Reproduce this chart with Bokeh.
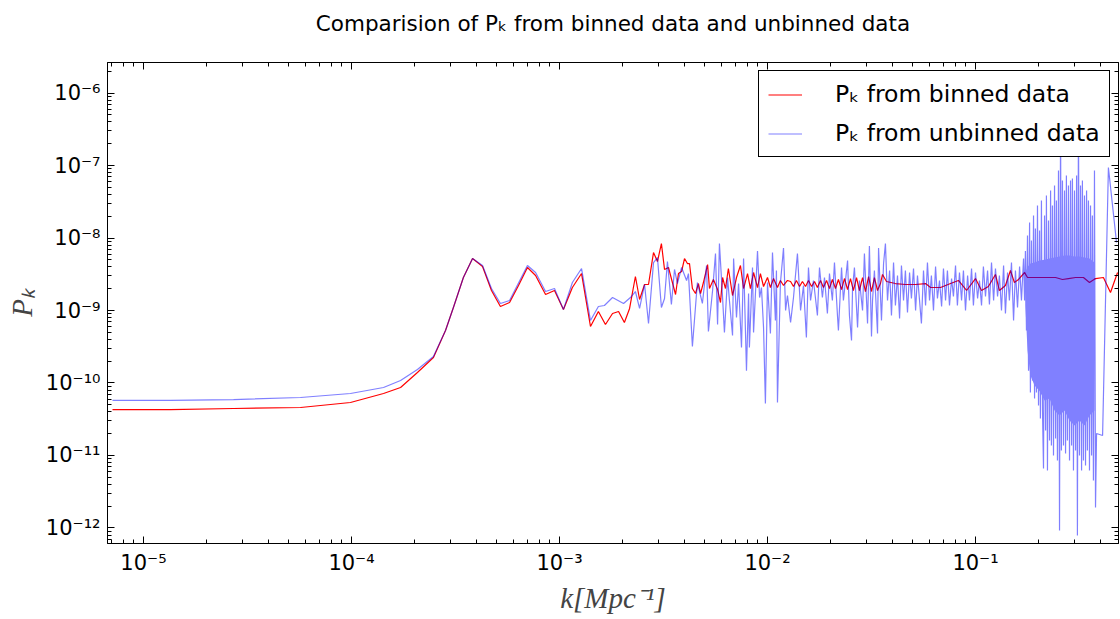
import numpy as np
from bokeh.plotting import figure
from bokeh.models import (Range1d, LogAxis, FixedTicker, CustomJSTickFormatter,
                          Legend, LegendItem)
from bokeh.embed import file_html
from bokeh.resources import INLINE

# ---------------- data: log10 values ----------------
# binned P_k (red)
red_low_log_k = [-5.149, -4.870, -4.567, -4.245, -4.005, -3.846, -3.764, -3.683, -3.606, -3.548,
                 -3.510, -3.462, -3.418, -3.370, -3.327, -3.284, -3.240, -3.197, -3.154, -3.115,
                 -3.067, -3.024, -2.981, -2.938, -2.894, -2.851, -2.813, -2.779, -2.745, -2.716,
                 -2.688, -2.663, -2.635, -2.615, -2.591, -2.572, -2.548, -2.529, -2.510, -2.495,
                 -2.476, -2.442, -2.428, -2.413, -2.399, -2.385, -2.375, -2.361, -2.346, -2.332,
                 -2.322, -2.308, -2.288, -2.279, -2.260, -2.240, -2.226]
red_low_log_p = [-10.366, -10.366, -10.352, -10.338, -10.269, -10.145, -10.062, -9.855, -9.648, -9.276,
                 -8.959, -8.545, -8.283, -8.393, -8.724, -8.945, -8.890, -8.655, -8.407, -8.517,
                 -8.779, -8.724, -8.986, -8.683, -8.490, -9.221, -9.014, -9.193, -9.041, -9.014,
                 -9.166, -8.972, -8.531, -8.848, -8.641, -8.641, -8.200, -8.324, -8.076, -8.434,
                 -8.407, -8.779, -8.490, -8.462, -8.283, -8.352, -8.352, -8.697, -8.766, -8.628,
                 -8.766, -8.614, -8.366, -8.697, -8.572, -8.710, -8.890]
red_mid_log_k = [-2.216, -2.202, -2.188, -2.168, -2.149, -2.130, -2.115, -2.096, -2.082, -2.067,
                 -2.048, -2.034, -2.019, -2.000, -1.986, -1.971, -1.952, -1.938, -1.923, -1.904,
                 -1.889, -1.875, -1.861, -1.846, -1.832, -1.817, -1.803, -1.788, -1.774, -1.760,
                 -1.745, -1.731, -1.716, -1.702, -1.688, -1.673, -1.659, -1.644, -1.630, -1.615,
                 -1.601, -1.587, -1.572, -1.558, -1.543, -1.529, -1.514, -1.500, -1.486, -1.471,
                 -1.457]
red_mid_log_p = [-8.545, -8.697, -8.421, -8.793, -8.545, -8.379, -8.697, -8.490, -8.697, -8.476,
                 -8.683, -8.490, -8.669, -8.545, -8.683, -8.559, -8.683, -8.586, -8.655, -8.586,
                 -8.600, -8.669, -8.586, -8.669, -8.600, -8.669, -8.586, -8.669, -8.600, -8.683,
                 -8.586, -8.683, -8.586, -8.697, -8.572, -8.697, -8.572, -8.710, -8.559, -8.710,
                 -8.559, -8.724, -8.545, -8.724, -8.545, -8.738, -8.531, -8.738, -8.545, -8.724,
                 -8.628]
red_high_log_k = [-1.447, -1.428, -1.385, -1.337, -1.288, -1.240, -1.216, -1.168, -1.120, -1.082,
                  -1.043, -1.000, -0.971, -0.938, -0.904, -0.885, -0.856, -0.832, -0.813, -0.793]
red_high_log_p = [-8.503, -8.600, -8.628, -8.641, -8.641, -8.628, -8.683, -8.683, -8.628, -8.586,
                  -8.724, -8.559, -8.724, -8.669, -8.503, -8.724, -8.655, -8.448, -8.614, -8.572]
red_band_log_k = [-0.764, -0.750, -0.712, -0.663, -0.615, -0.582, -0.553, -0.519, -0.481, -0.452,
                  -0.423]
red_band_log_p = [-8.476, -8.545, -8.545, -8.545, -8.545, -8.572, -8.559, -8.545, -8.545, -8.614,
                  -8.559]
red_tail_log_k = [-0.385, -0.351, -0.317]
red_tail_log_p = [-8.545, -8.752, -8.476]

# unbinned P_k (blue)
blue_low_log_k = [-5.149, -4.870, -4.567, -4.245, -4.005, -3.846, -3.764, -3.683, -3.606, -3.548,
                  -3.510, -3.462, -3.418, -3.370, -3.327, -3.284, -3.240, -3.154, -3.115, -3.067,
                  -3.024, -2.981, -2.938, -2.894, -2.851, -2.813, -2.784, -2.745, -2.692, -2.659,
                  -2.635, -2.615, -2.591, -2.572, -2.548, -2.529, -2.510, -2.495, -2.481, -2.462,
                  -2.447, -2.433, -2.413, -2.389, -2.380, -2.361, -2.337, -2.313, -2.293, -2.284,
                  -2.264, -2.250, -2.240, -2.231]
blue_low_log_p = [-10.241, -10.241, -10.228, -10.200, -10.145, -10.062, -9.966, -9.814, -9.634, -9.276,
                  -8.959, -8.545, -8.283, -8.379, -8.697, -8.903, -8.862, -8.379, -8.476, -8.738,
                  -8.697, -8.986, -8.614, -8.421, -9.138, -8.945, -8.931, -8.821, -8.903, -8.821,
                  -8.738, -8.972, -8.641, -9.179, -8.338, -8.269, -8.959, -8.834, -8.324, -8.917,
                  -8.434, -8.628, -8.407, -8.586, -8.490, -9.497, -8.614, -8.903, -8.379, -9.290,
                  -8.724, -8.214, -9.193, -8.076]
blue_mid_log_k = [-2.216, -2.207, -2.192, -2.183, -2.168, -2.163, -2.149, -2.139, -2.125, -2.115,
                  -2.101, -2.091, -2.087, -2.072, -2.067, -2.048, -2.038, -2.029, -2.019, -2.010,
                  -2.000, -1.986, -1.976, -1.962, -1.957, -1.952, -1.938, -1.923, -1.913, -1.904,
                  -1.889, -1.875, -1.856, -1.841, -1.827, -1.813, -1.803, -1.793, -1.779, -1.760,
                  -1.750, -1.736, -1.726, -1.712, -1.702, -1.688, -1.678, -1.663, -1.659, -1.644,
                  -1.635, -1.615, -1.606, -1.596, -1.591, -1.582, -1.567, -1.558, -1.543, -1.534,
                  -1.519, -1.510, -1.500, -1.495, -1.486, -1.471, -1.466, -1.452, -1.442, -1.433,
                  -1.423, -1.413]
blue_mid_log_p = [-8.821, -9.303, -8.545, -8.862, -9.345, -8.283, -9.097, -8.628, -9.510, -8.283,
                  -9.831, -8.766, -9.510, -8.407, -9.303, -8.179, -8.821, -8.683, -9.234, -10.283,
                  -8.614, -9.317, -8.200, -9.138, -8.448, -10.269, -8.628, -8.138, -9.000, -8.793,
                  -9.166, -8.821, -8.214, -9.000, -8.655, -9.372, -8.407, -8.862, -8.586, -9.069,
                  -8.407, -8.821, -8.545, -9.041, -8.490, -8.862, -8.338, -9.097, -9.276, -8.407,
                  -8.862, -8.310, -9.069, -9.414, -8.683, -8.407, -9.234, -8.586, -9.000, -8.214,
                  -9.179, -8.110, -9.359, -8.862, -8.448, -9.317, -8.138, -9.138, -8.352, -8.076,
                  -8.862, -8.448]
blue_noise_log_k = [-1.404, -1.394, -1.385, -1.375, -1.365, -1.356, -1.346, -1.337, -1.327, -1.317,
                    -1.308, -1.298, -1.288, -1.279, -1.269, -1.260, -1.250, -1.240, -1.231, -1.221,
                    -1.212, -1.202, -1.192, -1.183, -1.173, -1.163, -1.154, -1.144, -1.135, -1.125,
                    -1.115, -1.106, -1.096, -1.087, -1.077, -1.067, -1.058, -1.048, -1.038, -1.029,
                    -1.019, -1.010, -1.000, -0.990, -0.981, -0.971, -0.962, -0.952, -0.942, -0.933,
                    -0.923, -0.913, -0.904, -0.894, -0.885, -0.875, -0.865, -0.856, -0.846, -0.837,
                    -0.827, -0.817, -0.808, -0.798, -0.788, -0.779, -0.769]
blue_noise_log_p = [-9.069, -8.338, -8.931, -8.517, -9.110, -8.379, -8.862, -8.448, -9.028, -8.476,
                    -8.834, -8.421, -9.000, -8.517, -8.862, -9.179, -8.448, -8.931, -8.338, -8.862,
                    -8.517, -9.000, -8.393, -8.834, -8.586, -8.945, -8.421, -8.862, -8.448, -8.931,
                    -8.559, -8.807, -8.379, -8.931, -8.476, -8.862, -8.448, -9.000, -8.517, -8.862,
                    -8.421, -8.931, -8.476, -8.834, -8.586, -8.931, -8.393, -8.807, -8.448, -8.917,
                    -8.338, -8.862, -8.421, -8.807, -8.517, -9.000, -8.379, -9.041, -8.476, -8.862,
                    -8.338, -9.138, -8.448, -8.959, -8.393, -8.862, -8.283]
blue_band_log_k = [-0.764, -0.760, -0.755, -0.750, -0.745, -0.740, -0.736, -0.731, -0.726, -0.721,
                   -0.716, -0.712, -0.707, -0.702, -0.697, -0.692, -0.688, -0.683, -0.678, -0.673,
                   -0.668, -0.663, -0.659, -0.654, -0.649, -0.644, -0.639, -0.635, -0.630, -0.625,
                   -0.620, -0.615, -0.611, -0.606, -0.601, -0.596, -0.591, -0.587, -0.582, -0.577,
                   -0.572, -0.567, -0.563, -0.558, -0.553, -0.548, -0.543, -0.538, -0.534, -0.529,
                   -0.524, -0.519, -0.514, -0.510, -0.505, -0.500, -0.495, -0.490, -0.486, -0.481,
                   -0.476, -0.471, -0.466, -0.462, -0.457, -0.452, -0.447, -0.442, -0.438, -0.433,
                   -0.428, -0.423, -0.418, -0.389, -0.361, -0.322]
blue_band_log_p = [-8.862, -8.179, -9.276, -7.966, -9.831, -7.786, -10.131, -8.034, -9.966, -7.690,
                   -10.214, -7.869, -10.131, -7.552, -10.310, -7.897, -10.490, -7.483, -10.379, -11.179,
                   -7.690, -10.655, -7.414, -11.207, -7.759, -10.793, -7.345, -10.862, -7.552, -11.000,
                   -7.276, -10.766, -7.483, -11.069, -7.069, -12.034, -6.241, -10.931, -7.207, -10.862,
                   -7.345, -10.972, -7.138, -10.793, -7.276, -11.069, -7.207, -10.862, -7.179, -11.207,
                   -7.345, -10.931, -7.138, -12.103, -6.241, -11.000, -7.276, -11.207, -7.207, -11.069,
                   -7.414, -11.138, -7.345, -10.931, -7.483, -11.207, -7.552, -11.000, -7.690, -11.345,
                   -7.069, -11.717, -10.697, -10.724, -7.028, -8.062]
# solid core of the dense unbinned band (where the traces merge)
core_log_k = [-0.760, -0.750, -0.736, -0.716, -0.692, -0.668, -0.644, -0.620, -0.596, -0.572,
              -0.548, -0.524, -0.500, -0.476, -0.452, -0.428]
core_upper_log_p = [-8.476, -8.400, -8.352, -8.338, -8.310, -8.300, -8.283, -8.269, -8.255, -8.241,
                    -8.241, -8.255, -8.255, -8.269, -8.283, -8.338]
core_lower_log_p = [-8.931, -9.552, -9.897, -10.034, -10.110, -10.241, -10.214, -10.379, -10.448, -10.379,
                    -10.517, -10.586, -10.517, -10.586, -10.448, -10.379]

x_major_ticks = [1e-5, 1e-4, 1e-3, 1e-2, 1e-1]
y_major_ticks = [1e-12, 1e-11, 1e-10, 1e-9, 1e-8, 1e-7, 1e-6]

legend_labels = ["P\u2096 from binned data", "P\u2096 from unbinned data"]
title_text = "Comparision of P\u2096 from binned data and unbinned data"


def join(*parts):
    return [v for part in parts for v in part]


def pw(vals):
    return 10.0 ** np.array(vals)


red_k = pw(join(red_low_log_k, red_mid_log_k, red_high_log_k, red_band_log_k, red_tail_log_k))
red_p = pw(join(red_low_log_p, red_mid_log_p, red_high_log_p, red_band_log_p, red_tail_log_p))
blue_k = pw(join(blue_low_log_k, blue_mid_log_k, blue_noise_log_k, blue_band_log_k))
blue_p = pw(join(blue_low_log_p, blue_mid_log_p, blue_noise_log_p, blue_band_log_p))

x_minor = [m * 10.0 ** e for e in range(-6, 0) for m in range(2, 10)]
y_minor = [m * 10.0 ** e for e in range(-13, -5) for m in range(2, 10)]

p = figure(width=1120, height=619, x_axis_type="log", y_axis_type="log",
           x_range=Range1d(10 ** -5.173, 10 ** -0.3125),
           y_range=Range1d(10 ** -12.214, 10 ** -5.579),
           output_backend="svg", toolbar_location=None,
           min_border_left=107, min_border_right=2, min_border_top=62, min_border_bottom=76)
p.background_fill_color = "white"
p.border_fill_color = "white"
p.outline_line_color = "black"
p.outline_line_width = 1
p.grid.visible = False

sup_code = r"""
const sup = {"-": "\u207b", "0": "\u2070", "1": "\u00b9", "2": "\u00b2", "3": "\u00b3",
             "4": "\u2074", "5": "\u2075", "6": "\u2076", "7": "\u2077", "8": "\u2078", "9": "\u2079"};
const e = Math.round(Math.log10(tick));
return "10" + String(e).split("").map(c => sup[c]).join("");
"""


def style_axis(ax, ticks, minor, labels):
    ax.ticker = FixedTicker(ticks=ticks, minor_ticks=minor)
    ax.major_tick_in = 7
    ax.major_tick_out = 0
    ax.minor_tick_in = 4
    ax.minor_tick_out = 0
    ax.axis_line_color = "black"
    ax.major_tick_line_color = "black"
    ax.minor_tick_line_color = "black"
    if labels:
        ax.formatter = CustomJSTickFormatter(code=sup_code)
        ax.major_label_text_font = "DejaVu Sans"
        ax.major_label_text_font_size = "21px"
        ax.major_label_text_color = "black"
        ax.major_label_standoff = 7
    else:
        ax.formatter = CustomJSTickFormatter(code="return '';")
        ax.major_label_text_font_size = "0px"
        ax.major_label_standoff = 0


xa = p.below[0]
ya = p.left[0]
style_axis(xa, x_major_ticks, x_minor, True)
style_axis(ya, y_major_ticks, y_minor, True)
xa.axis_label = "k[Mpc\u207b\u00b9]"
xa.axis_label_text_font = "Liberation Serif"
xa.axis_label_text_font_style = "italic"
xa.axis_label_text_font_size = "29px"
xa.axis_label_standoff = 4
ya.axis_label = "P\u2096"
ya.axis_label_text_font = "Liberation Serif"
ya.axis_label_text_font_style = "italic"
ya.axis_label_text_font_size = "29px"
ya.axis_label_standoff = 5

top_axis = LogAxis()
right_axis = LogAxis()
p.add_layout(top_axis, "above")
p.add_layout(right_axis, "right")
style_axis(top_axis, x_major_ticks, x_minor, False)
style_axis(right_axis, y_major_ticks, y_minor, False)

# chart title carried by the top frame axis so that it sits at a fixed distance above the frame
top_axis.axis_label = title_text
top_axis.axis_label_text_font = "DejaVu Sans"
top_axis.axis_label_text_font_style = "normal"
top_axis.axis_label_text_font_size = "21.5px"
top_axis.axis_label_text_color = "black"
top_axis.axis_label_standoff = 27

r_red = p.line(red_k, red_p, line_color="red", line_width=1.2)
r_blue = p.line(blue_k, blue_p, line_color="blue", line_alpha=0.5, line_width=1.2)
# merged core of the dense band, then the binned trace seen through it
p.varea(x=pw(core_log_k), y1=pw(core_lower_log_p), y2=pw(core_upper_log_p), fill_color="#8080ff")
p.line(pw(red_band_log_k), pw(red_band_log_p), line_color="#800080", line_width=1.2)

legend = Legend(items=[LegendItem(label=legend_labels[0], renderers=[r_red]),
                       LegendItem(label=legend_labels[1], renderers=[r_blue])],
                location=(651, 386), orientation="vertical",
                padding=9, spacing=11, margin=0,
                glyph_width=34, glyph_height=27, label_height=27, label_standoff=33,
                label_text_font="DejaVu Sans", label_text_font_size="23.5px",
                label_text_color="black",
                border_line_color="black", border_line_width=1, border_line_alpha=1,
                background_fill_color="white", background_fill_alpha=1)
p.add_layout(legend)

open("out.html", "w").write(file_html(p, INLINE))
